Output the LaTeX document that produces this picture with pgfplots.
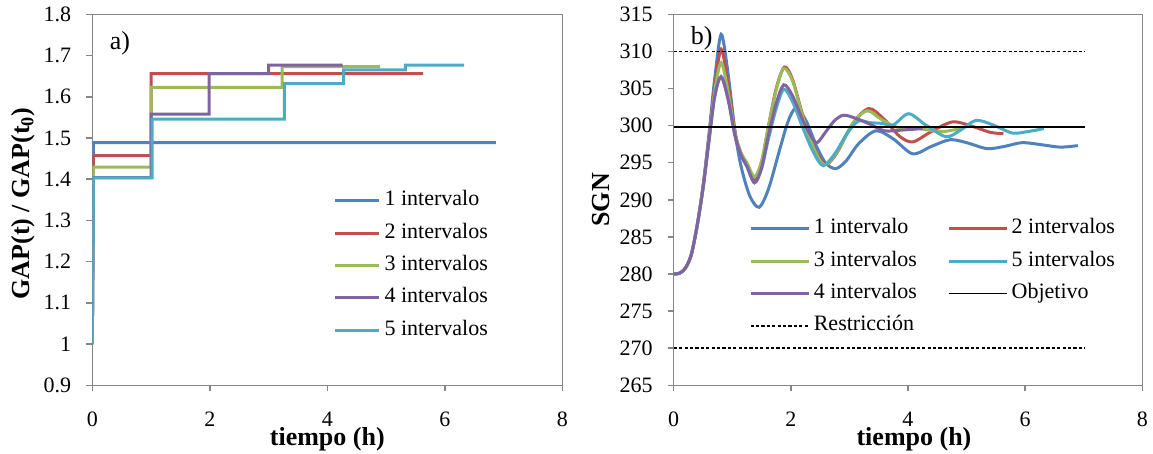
\documentclass[border=0pt]{standalone}
\usepackage{fontspec}
\setmainfont{Liberation Serif}
\usepackage{pgfplots}
\pgfplotsset{compat=1.18}
\definecolor{cBlue}{HTML}{4F81BD}
\definecolor{cRed}{HTML}{C0504D}
\definecolor{cGreen}{HTML}{9BBB59}
\definecolor{cPurple}{HTML}{8064A2}
\definecolor{cCyan}{HTML}{4BACC6}
\definecolor{axgray}{HTML}{868686}
\pgfplotsset{
  common/.style={
    scale only axis, height=185.5pt,
    xmin=0, xmax=8, xtick={0,2,4,6,8},
    axis line style={axgray, line width=0.75pt},
    tick style={axgray, line width=0.75pt},
    major tick length=3pt, tick align=outside, tick pos=left,
    /pgf/number format/assume math mode=true,
    tick label style={font=\fontsize{11}{13}\selectfont, text=black},
    yticklabel style={xshift=-4pt},
    xticklabel style={yshift=-7pt},
    label style={font=\fontsize{13}{15}\selectfont\bfseries},
    xlabel style={at={(axis description cs:0.5,0)}, anchor=center, yshift=-26.8pt},
    legend cell align=left,
    legend style={draw=none, fill=none, inner sep=0pt, outer sep=0pt,
      font=\fontsize{11}{13}\selectfont,
      nodes={text height=8pt, text depth=3pt, inner sep=0pt}, row sep=5.2pt},
  }
}
\begin{document}
\begin{tikzpicture}
\useasboundingbox (0,0) rectangle (576.5pt,227pt);
% ---------------- a)
\begin{axis}[common, at={(46.15pt,34.35pt)}, anchor=south west, width=235pt,
  ymin=0.9, ymax=1.8, ytick={0.9,1,1.1,1.2,1.3,1.4,1.5,1.6,1.7,1.8},
  yticklabel style={/pgf/number format/fixed, /pgf/number format/precision=1},
  xlabel={tiempo (h)},
  ylabel={GAP(t) / GAP(t\textsubscript{0})},
  ylabel style={at={(axis description cs:-0.147,0.49)}, anchor=center, rotate=0},
  legend image code/.code={\draw[#1] (0pt,0pt) -- (22pt,0pt);},
  legend style={at={(axis description cs:0.514,0.527)}, anchor=north west},
  every axis plot/.append style={line width=1.5pt},
  ]
\addplot[cBlue] coordinates {(0,1) (0.02,1.489) (6.87,1.489)};
\addlegendentry{\,1 intervalo}
\addplot[cRed] coordinates {(0,1) (0.02,1.457) (1,1.457) (1,1.656) (5.63,1.656)};
\addlegendentry{\,2 intervalos}
\addplot[cGreen] coordinates {(0,1) (0.02,1.429) (1,1.429) (1,1.623) (3.23,1.623) (3.23,1.673) (4.9,1.673)};
\addlegendentry{\,3 intervalos}
\addplot[cPurple] coordinates {(0,1) (0.02,1.404) (1,1.404) (1,1.558) (1.99,1.558) (1.99,1.656) (3,1.656) (3,1.677) (4.26,1.677)};
\addlegendentry{\,4 intervalos}
\addplot[cCyan] coordinates {(0,1) (0.02,1.403) (1.02,1.403) (1.02,1.546) (3.27,1.546) (3.27,1.632) (4.28,1.632) (4.28,1.665) (5.33,1.665) (5.33,1.677) (6.33,1.677)};
\addlegendentry{\,5 intervalos}
\node[font=\fontsize{13}{15}\selectfont] at (axis description cs:0.059,0.921) {a)};
\end{axis}
% ---------------- b)
\begin{axis}[common, at={(336.85pt,34.35pt)}, anchor=south west, width=234.3pt,
  ymin=265, ymax=315, ytick={265,270,...,315},
  xlabel={tiempo (h)},
  xlabel style={xshift=3pt},
  ylabel={SGN},
  ylabel style={at={(axis description cs:-0.155,0.5)}, anchor=center, rotate=0},
  legend columns=2,
  legend image code/.code={\draw[#1] (0pt,0pt) -- (29pt,0pt);},
  legend style={at={(axis description cs:0.161,0.452)}, anchor=north west,
     /tikz/column 2/.style={column sep=15pt}},
  ]
\addplot[cBlue, line width=1.5pt, smooth] coordinates {
(0,280) (0.1,280.1) (0.2,280.8) (0.3,282.6) (0.4,286.5) (0.5,291.8) (0.6,298.7) (0.7,306.3) (0.81,312.3)
(0.92,307.5) (1.05,299) (1.15,294.5) (1.3,290.5) (1.46,289.0) (1.62,291.5) (1.8,296.5) (1.95,300.5) (2.08,302.3)
(2.25,300.8) (2.45,297) (2.6,294.9) (2.77,294.2) (2.95,295.3) (3.15,297.5) (3.45,299.3) (3.75,298.2) (4.08,296.2)
(4.4,297.2) (4.72,298.1) (5.0,297.7) (5.35,296.9) (5.65,297.2) (5.95,297.7) (6.3,297.4) (6.6,297.1) (6.9,297.3)};
\addlegendentry{\,1 intervalo}
\addplot[cRed, line width=1.5pt, smooth] coordinates {
(0,280) (0.1,280.1) (0.2,280.8) (0.3,282.6) (0.4,286.5) (0.5,291.7) (0.6,298.3) (0.7,305.2) (0.81,310.3)
(0.93,305.5) (1.05,299) (1.15,296.3) (1.25,294.8) (1.38,292.8) (1.5,295) (1.62,300) (1.75,305) (1.89,307.9)
(2.03,306.2) (2.2,301.5) (2.4,297) (2.6,294.8) (2.8,296.5) (3.05,300.2) (3.33,302.3) (3.6,300.8) (3.85,298.6)
(4.08,297.8) (4.4,299.2) (4.76,300.5) (5.1,299.9) (5.4,299.1) (5.63,298.9)};
\addlegendentry{\,2 intervalos}
\addplot[cGreen, line width=1.5pt, smooth] coordinates {
(0,280) (0.1,280.1) (0.2,280.8) (0.3,282.6) (0.4,286.5) (0.5,291.6) (0.6,298.0) (0.7,304.6) (0.81,308.5)
(0.93,304.5) (1.05,298.8) (1.15,296.3) (1.25,295) (1.38,293.1) (1.5,295.2) (1.62,300) (1.75,304.8) (1.88,307.7)
(2.03,306) (2.2,301.3) (2.4,296.8) (2.58,294.7) (2.8,296.6) (3.05,300.2) (3.3,302.0) (3.55,300.8) (3.8,299.8)
(4.1,299.7) (4.35,299.4) (4.6,299.2) (4.9,299.6)};
\addlegendentry{\,3 intervalos}
\addplot[cCyan, line width=1.5pt, smooth] coordinates {
(0,280) (0.1,280.1) (0.2,280.8) (0.3,282.6) (0.4,286.5) (0.5,291.5) (0.6,297.8) (0.7,303.9) (0.81,306.6)
(0.93,303.5) (1.05,298.5) (1.15,296) (1.25,294.5) (1.38,292.3) (1.5,294.2) (1.62,298.3) (1.75,302.3) (1.88,304.9)
(2.03,303.2) (2.2,299.8) (2.38,296.5) (2.55,294.6) (2.75,296.2) (2.95,298.8) (3.15,300.6) (3.35,300.4) (3.55,300.3)
(3.75,300.1) (4.01,301.6) (4.3,300.1) (4.65,298.5) (4.9,299.4) (5.16,300.7) (5.45,300.1) (5.78,299.0) (6.05,299.2) (6.32,299.6)};
\addlegendentry{\,5 intervalos}
\addplot[cPurple, line width=1.5pt, smooth] coordinates {
(0,280) (0.1,280.1) (0.2,280.8) (0.3,282.6) (0.4,286.5) (0.5,291.5) (0.6,297.8) (0.7,303.9) (0.81,306.6)
(0.93,303.5) (1.05,298.5) (1.15,296) (1.25,294.5) (1.38,292.3) (1.5,294.3) (1.62,298.8) (1.75,303) (1.88,305.5)
(2.03,304) (2.2,300.8) (2.35,298.5) (2.45,297.7) (2.6,299.2) (2.75,300.7) (2.9,301.4) (3.1,301.0) (3.35,300.2)
(3.6,299.3) (3.9,299.4) (4.25,299.6)};
\addlegendentry{\,4 intervalos}
\addplot[black, line width=0.75pt] coordinates {(0,299.8) (7.02,299.8)};
\addlegendentry{\,Objetivo}
\addplot[black, line width=0.75pt, dash pattern=on 1.6pt off 1.1pt] coordinates {(0,310) (7.02,310)};
\addlegendentry{\,Restricción}
\addplot[black, line width=0.75pt, dash pattern=on 1.6pt off 1.1pt, forget plot] coordinates {(0,270) (7.02,270)};
\node[font=\fontsize{13}{15}\selectfont] at (axis description cs:0.060,0.936) {b)};
\end{axis}
\end{tikzpicture}
\end{document}
